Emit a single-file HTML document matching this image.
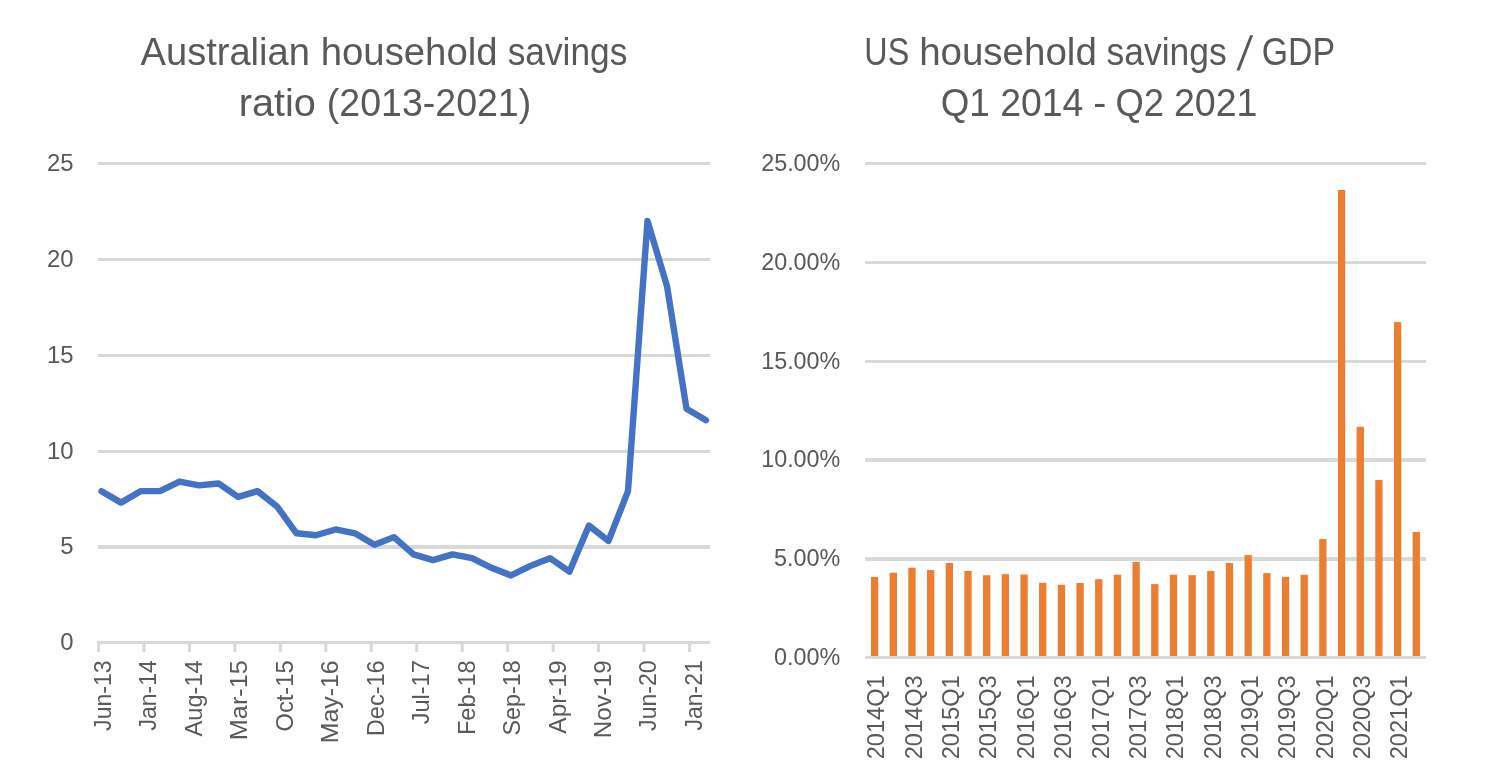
<!DOCTYPE html>
<html lang="en"><head><meta charset="utf-8"><title>Household savings charts</title>
<style>html,body{margin:0;padding:0;background:#fff}body{width:1495px;height:775px;overflow:hidden}svg{display:block}text{font-family:'Liberation Sans', sans-serif;fill:#595959}</style></head><body>
<svg width="1495" height="775" viewBox="0 0 1495 775">
<rect x="0" y="0" width="1495" height="775" fill="#ffffff"/>
<g id="left-chart">
<text y="65" font-size="38.0"><tspan x="140.60" textLength="169.29" lengthAdjust="spacingAndGlyphs">Australian</tspan> <tspan x="320.78" textLength="176.72" lengthAdjust="spacingAndGlyphs">household</tspan> <tspan x="507.67" textLength="119.71" lengthAdjust="spacingAndGlyphs">savings</tspan></text>
<text y="115.5" font-size="38.0"><tspan x="238.72" textLength="77.05" lengthAdjust="spacingAndGlyphs">ratio</tspan> <tspan x="326.83" textLength="204.40" lengthAdjust="spacingAndGlyphs">(2013-2021)</tspan></text>
<rect x="98" y="162" width="612" height="3" fill="#D9D9D9"/>
<rect x="98" y="258" width="612" height="3" fill="#D9D9D9"/>
<rect x="98" y="354" width="612" height="3" fill="#D9D9D9"/>
<rect x="98" y="450" width="612" height="3" fill="#D9D9D9"/>
<rect x="98" y="545" width="612" height="4" fill="#D9D9D9"/>
<rect x="98" y="641" width="612" height="3" fill="#D9D9D9"/>
<rect x="97.00" y="641" width="3" height="11" fill="#D9D9D9"/>
<rect x="142.46" y="641" width="3" height="11" fill="#D9D9D9"/>
<rect x="187.92" y="641" width="3" height="11" fill="#D9D9D9"/>
<rect x="233.38" y="641" width="3" height="11" fill="#D9D9D9"/>
<rect x="278.85" y="641" width="3" height="11" fill="#D9D9D9"/>
<rect x="324.31" y="641" width="3" height="11" fill="#D9D9D9"/>
<rect x="369.77" y="641" width="3" height="11" fill="#D9D9D9"/>
<rect x="415.23" y="641" width="3" height="11" fill="#D9D9D9"/>
<rect x="460.69" y="641" width="3" height="11" fill="#D9D9D9"/>
<rect x="506.15" y="641" width="3" height="11" fill="#D9D9D9"/>
<rect x="551.62" y="641" width="3" height="11" fill="#D9D9D9"/>
<rect x="597.08" y="641" width="3" height="11" fill="#D9D9D9"/>
<rect x="642.54" y="641" width="3" height="11" fill="#D9D9D9"/>
<rect x="688.00" y="641" width="3" height="11" fill="#D9D9D9"/>
<text x="73.6" y="170.80" font-size="23.9" text-anchor="end">25</text>
<text x="73.6" y="266.80" font-size="23.9" text-anchor="end">20</text>
<text x="73.6" y="362.80" font-size="23.9" text-anchor="end">15</text>
<text x="73.6" y="458.80" font-size="23.9" text-anchor="end">10</text>
<text x="73.6" y="554.30" font-size="23.9" text-anchor="end">5</text>
<text x="73.6" y="649.80" font-size="23.9" text-anchor="end">0</text>
<text transform="translate(110.90 660.3) rotate(-90)" font-size="23.9" text-anchor="end" textLength="70.62" lengthAdjust="spacingAndGlyphs">Jun-13</text>
<text transform="translate(156.36 660.3) rotate(-90)" font-size="23.9" text-anchor="end" textLength="70.22" lengthAdjust="spacingAndGlyphs">Jan-14</text>
<text transform="translate(201.82 660.3) rotate(-90)" font-size="23.9" text-anchor="end" textLength="76.14" lengthAdjust="spacingAndGlyphs">Aug-14</text>
<text transform="translate(247.28 660.3) rotate(-90)" font-size="23.9" text-anchor="end" textLength="79.84" lengthAdjust="spacingAndGlyphs">Mar-15</text>
<text transform="translate(292.75 660.3) rotate(-90)" font-size="23.9" text-anchor="end" textLength="71.29" lengthAdjust="spacingAndGlyphs">Oct-15</text>
<text transform="translate(338.21 660.3) rotate(-90)" font-size="23.9" text-anchor="end" textLength="82.98" lengthAdjust="spacingAndGlyphs">May-16</text>
<text transform="translate(383.67 660.3) rotate(-90)" font-size="23.9" text-anchor="end" textLength="75.88" lengthAdjust="spacingAndGlyphs">Dec-16</text>
<text transform="translate(429.13 660.3) rotate(-90)" font-size="23.9" text-anchor="end" textLength="64.06" lengthAdjust="spacingAndGlyphs">Jul-17</text>
<text transform="translate(474.59 660.3) rotate(-90)" font-size="23.9" text-anchor="end" textLength="74.77" lengthAdjust="spacingAndGlyphs">Feb-18</text>
<text transform="translate(520.05 660.3) rotate(-90)" font-size="23.9" text-anchor="end" textLength="75.20" lengthAdjust="spacingAndGlyphs">Sep-18</text>
<text transform="translate(565.51 660.3) rotate(-90)" font-size="23.9" text-anchor="end" textLength="73.34" lengthAdjust="spacingAndGlyphs">Apr-19</text>
<text transform="translate(610.98 660.3) rotate(-90)" font-size="23.9" text-anchor="end" textLength="77.85" lengthAdjust="spacingAndGlyphs">Nov-19</text>
<text transform="translate(656.44 660.3) rotate(-90)" font-size="23.9" text-anchor="end" textLength="70.62" lengthAdjust="spacingAndGlyphs">Jun-20</text>
<text transform="translate(701.90 660.3) rotate(-90)" font-size="23.9" text-anchor="end" textLength="70.22" lengthAdjust="spacingAndGlyphs">Jan-21</text>
<polyline points="101.50,491.14 121.00,502.63 140.50,491.14 160.00,491.14 179.50,481.56 199.00,485.39 218.50,483.47 238.00,496.88 257.50,491.14 277.00,506.46 296.50,533.29 316.00,535.20 335.50,529.46 355.00,533.29 374.50,544.78 394.00,537.12 413.50,554.36 433.00,560.11 452.50,554.36 472.00,558.20 491.50,567.78 511.00,575.44 530.50,565.86 550.00,558.20 569.50,571.61 589.00,525.62 608.50,540.95 628.00,491.14 647.50,220.98 667.00,286.12 686.50,408.75 706.00,420.24" fill="none" stroke="#4472C4" stroke-width="6.4" stroke-linecap="round" stroke-linejoin="round"/>
</g>
<g id="right-chart">
<text y="65" font-size="38.0"><tspan x="864.35" textLength="44.88" lengthAdjust="spacingAndGlyphs">US</tspan> <tspan x="919.17" textLength="177.65" lengthAdjust="spacingAndGlyphs">household</tspan> <tspan x="1106.57" textLength="120.12" lengthAdjust="spacingAndGlyphs">savings</tspan></text>
<text transform="translate(1236.5 70) skewX(-9) scale(1 1.2)" font-size="40">/</text>
<text y="65" font-size="38.0"><tspan x="1261.72" textLength="73.29" lengthAdjust="spacingAndGlyphs">GDP</tspan></text>
<text y="115.5" font-size="38.0"><tspan x="940.76" textLength="49.08" lengthAdjust="spacingAndGlyphs">Q1</tspan> <tspan x="1000.13" textLength="83.21" lengthAdjust="spacingAndGlyphs">2014</tspan> <tspan x="1093.37" textLength="13.04" lengthAdjust="spacingAndGlyphs">-</tspan> <tspan x="1115.49" textLength="48.55" lengthAdjust="spacingAndGlyphs">Q2</tspan> <tspan x="1173.92" textLength="83.61" lengthAdjust="spacingAndGlyphs">2021</tspan></text>
<rect x="865" y="557" width="561" height="4" fill="#D9D9D9"/>
<rect x="865" y="458" width="561" height="4" fill="#D9D9D9"/>
<rect x="865" y="360" width="561" height="3" fill="#D9D9D9"/>
<rect x="865" y="261" width="561" height="3" fill="#D9D9D9"/>
<rect x="865" y="162" width="561" height="3" fill="#D9D9D9"/>
<text x="840.3" y="664.70" font-size="23.9" text-anchor="end" textLength="66.3" lengthAdjust="spacingAndGlyphs">0.00%</text>
<text x="840.3" y="566.20" font-size="23.9" text-anchor="end" textLength="66.3" lengthAdjust="spacingAndGlyphs">5.00%</text>
<text x="840.3" y="467.20" font-size="23.9" text-anchor="end" textLength="79.1" lengthAdjust="spacingAndGlyphs">10.00%</text>
<text x="840.3" y="368.70" font-size="23.9" text-anchor="end" textLength="79.1" lengthAdjust="spacingAndGlyphs">15.00%</text>
<text x="840.3" y="269.70" font-size="23.9" text-anchor="end" textLength="79.1" lengthAdjust="spacingAndGlyphs">20.00%</text>
<text x="840.3" y="170.70" font-size="23.9" text-anchor="end" textLength="79.1" lengthAdjust="spacingAndGlyphs">25.00%</text>
<rect x="870.97" y="577.00" width="7.30" height="79.50" fill="#ED7D31"/>
<rect x="889.65" y="572.70" width="7.30" height="83.80" fill="#ED7D31"/>
<rect x="908.33" y="567.70" width="7.30" height="88.80" fill="#ED7D31"/>
<rect x="927.00" y="570.10" width="7.30" height="86.40" fill="#ED7D31"/>
<rect x="945.68" y="563.00" width="7.30" height="93.50" fill="#ED7D31"/>
<rect x="964.36" y="571.00" width="7.30" height="85.50" fill="#ED7D31"/>
<rect x="983.04" y="575.20" width="7.30" height="81.30" fill="#ED7D31"/>
<rect x="1001.72" y="574.20" width="7.30" height="82.30" fill="#ED7D31"/>
<rect x="1020.39" y="574.50" width="7.30" height="82.00" fill="#ED7D31"/>
<rect x="1039.07" y="582.80" width="7.30" height="73.70" fill="#ED7D31"/>
<rect x="1057.75" y="584.80" width="7.30" height="71.70" fill="#ED7D31"/>
<rect x="1076.43" y="583.00" width="7.30" height="73.50" fill="#ED7D31"/>
<rect x="1095.11" y="579.20" width="7.30" height="77.30" fill="#ED7D31"/>
<rect x="1113.78" y="574.70" width="7.30" height="81.80" fill="#ED7D31"/>
<rect x="1132.46" y="562.00" width="7.30" height="94.50" fill="#ED7D31"/>
<rect x="1151.14" y="584.10" width="7.30" height="72.40" fill="#ED7D31"/>
<rect x="1169.82" y="574.70" width="7.30" height="81.80" fill="#ED7D31"/>
<rect x="1188.50" y="575.20" width="7.30" height="81.30" fill="#ED7D31"/>
<rect x="1207.17" y="571.00" width="7.30" height="85.50" fill="#ED7D31"/>
<rect x="1225.85" y="563.00" width="7.30" height="93.50" fill="#ED7D31"/>
<rect x="1244.53" y="555.10" width="7.30" height="101.40" fill="#ED7D31"/>
<rect x="1263.21" y="573.10" width="7.30" height="83.40" fill="#ED7D31"/>
<rect x="1281.89" y="576.90" width="7.30" height="79.60" fill="#ED7D31"/>
<rect x="1300.56" y="574.80" width="7.30" height="81.70" fill="#ED7D31"/>
<rect x="1319.24" y="539.10" width="7.30" height="117.40" fill="#ED7D31"/>
<rect x="1337.92" y="190.00" width="7.30" height="466.50" fill="#ED7D31"/>
<rect x="1356.60" y="426.80" width="7.30" height="229.70" fill="#ED7D31"/>
<rect x="1375.28" y="480.00" width="7.30" height="176.50" fill="#ED7D31"/>
<rect x="1393.95" y="322.10" width="7.30" height="334.40" fill="#ED7D31"/>
<rect x="1412.63" y="532.00" width="7.30" height="124.50" fill="#ED7D31"/>
<rect x="865.00" y="656" width="561.00" height="3" fill="#D9D9D9"/>
<text transform="translate(884.42 675.3) rotate(-90)" font-size="23.9" text-anchor="end" textLength="84.0" lengthAdjust="spacingAndGlyphs">2014Q1</text>
<text transform="translate(921.78 675.3) rotate(-90)" font-size="23.9" text-anchor="end" textLength="84.0" lengthAdjust="spacingAndGlyphs">2014Q3</text>
<text transform="translate(959.13 675.3) rotate(-90)" font-size="23.9" text-anchor="end" textLength="84.0" lengthAdjust="spacingAndGlyphs">2015Q1</text>
<text transform="translate(996.49 675.3) rotate(-90)" font-size="23.9" text-anchor="end" textLength="84.0" lengthAdjust="spacingAndGlyphs">2015Q3</text>
<text transform="translate(1033.84 675.3) rotate(-90)" font-size="23.9" text-anchor="end" textLength="84.0" lengthAdjust="spacingAndGlyphs">2016Q1</text>
<text transform="translate(1071.20 675.3) rotate(-90)" font-size="23.9" text-anchor="end" textLength="84.0" lengthAdjust="spacingAndGlyphs">2016Q3</text>
<text transform="translate(1108.56 675.3) rotate(-90)" font-size="23.9" text-anchor="end" textLength="84.0" lengthAdjust="spacingAndGlyphs">2017Q1</text>
<text transform="translate(1145.91 675.3) rotate(-90)" font-size="23.9" text-anchor="end" textLength="84.0" lengthAdjust="spacingAndGlyphs">2017Q3</text>
<text transform="translate(1183.27 675.3) rotate(-90)" font-size="23.9" text-anchor="end" textLength="84.0" lengthAdjust="spacingAndGlyphs">2018Q1</text>
<text transform="translate(1220.62 675.3) rotate(-90)" font-size="23.9" text-anchor="end" textLength="84.0" lengthAdjust="spacingAndGlyphs">2018Q3</text>
<text transform="translate(1257.98 675.3) rotate(-90)" font-size="23.9" text-anchor="end" textLength="84.0" lengthAdjust="spacingAndGlyphs">2019Q1</text>
<text transform="translate(1295.34 675.3) rotate(-90)" font-size="23.9" text-anchor="end" textLength="84.0" lengthAdjust="spacingAndGlyphs">2019Q3</text>
<text transform="translate(1332.69 675.3) rotate(-90)" font-size="23.9" text-anchor="end" textLength="84.0" lengthAdjust="spacingAndGlyphs">2020Q1</text>
<text transform="translate(1370.05 675.3) rotate(-90)" font-size="23.9" text-anchor="end" textLength="84.0" lengthAdjust="spacingAndGlyphs">2020Q3</text>
<text transform="translate(1407.40 675.3) rotate(-90)" font-size="23.9" text-anchor="end" textLength="84.0" lengthAdjust="spacingAndGlyphs">2021Q1</text>
</g>
</svg></body></html>
